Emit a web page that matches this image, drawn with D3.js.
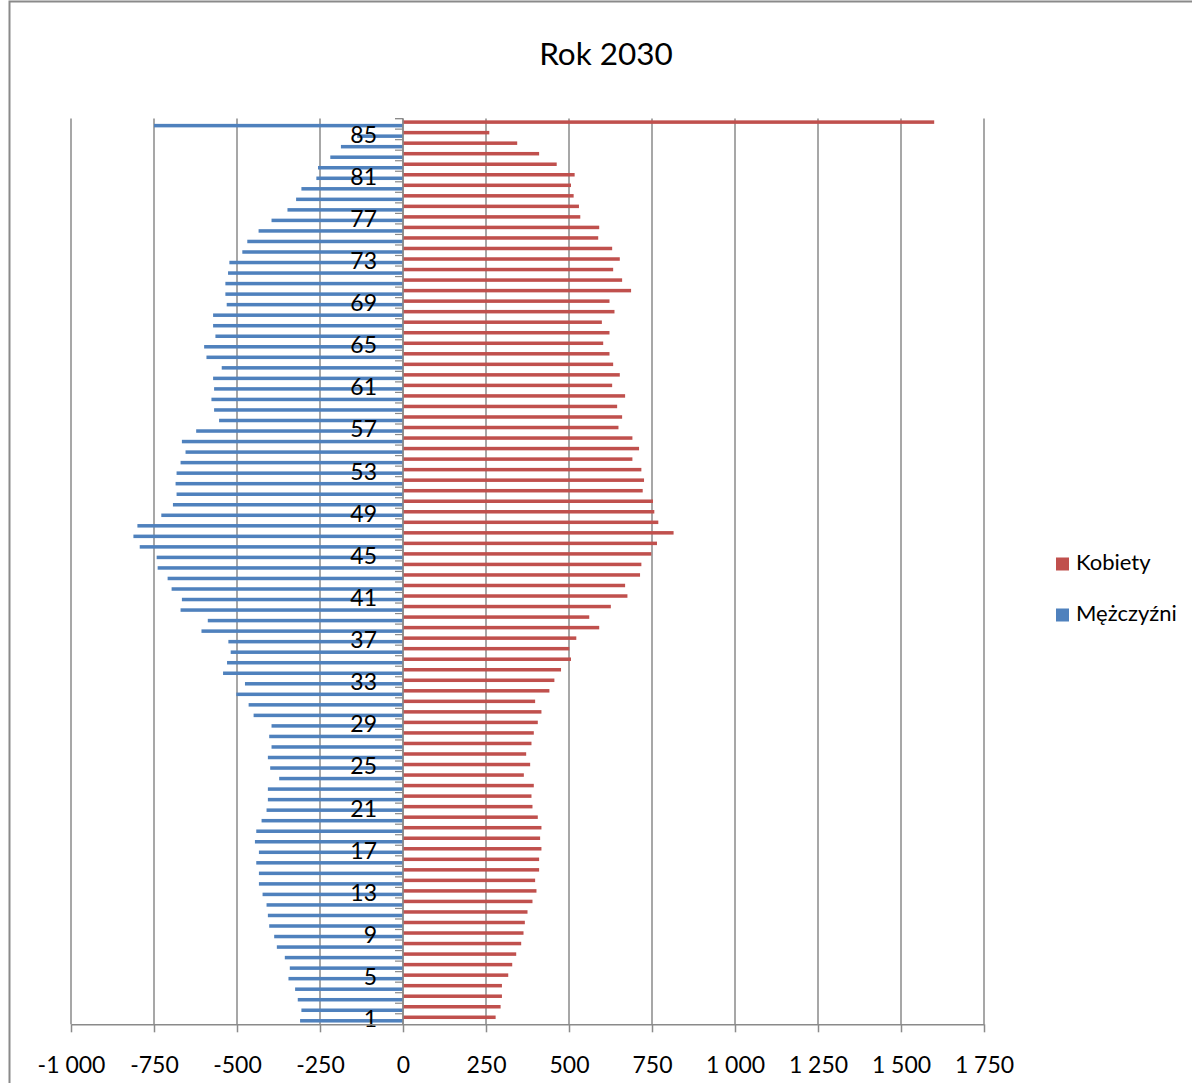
<!DOCTYPE html>
<html><head><meta charset="utf-8">
<script src="https://cdn.jsdelivr.net/npm/d3@7"></script>
<style>
body{margin:0;background:#fff}
svg{display:block}
text{font-family:Lato,"Open Sans",sans-serif;fill:#000}
</style>
</head><body>
<svg id="c" width="1192" height="1083"></svg>
<script>
const title = "Rok 2030";
const seriesNames = ["Kobiety", "Mężczyźni"];
const ages = ["1","2","3","4","5","6","7","8","9","10","11","12","13","14","15","16","17","18","19","20",
  "21","22","23","24","25","26","27","28","29","30","31","32","33","34","35","36","37","38","39","40",
  "41","42","43","44","45","46","47","48","49","50","51","52","53","54","55","56","57","58","59","60",
  "61","62","63","64","65","66","67","68","69","70","71","72","73","74","75","76","77","78","79","80",
  "81","82","83","84","85","86"];
// Mężczyźni (negative values, left side), age 1 .. 86
const men = [-310,-306,-317,-325,-345,-341,-356,-380,-388,-403,-407,-411,-423,-434,-434,-442,-434,-446,-442,-426,
  -411,-407,-407,-373,-400,-407,-396,-403,-396,-450,-465,-502,-476,-542,-530,-519,-526,-607,-588,-670,
  -666,-697,-709,-739,-742,-793,-812,-800,-728,-693,-682,-685,-682,-670,-655,-666,-623,-554,-569,-577,
  -569,-572,-546,-592,-599,-565,-572,-572,-531,-535,-535,-527,-523,-484,-469,-435,-396,-348,-322,-306,
  -261,-256,-219,-187,-138,-750];
// Kobiety, age 1 .. 86
const women = [279,294,298,298,317,329,341,356,363,367,375,390,402,398,410,410,417,413,417,406,
  390,387,394,364,383,371,387,394,406,417,398,441,456,476,506,501,522,591,561,626,
  676,669,714,718,748,765,815,769,757,753,722,726,718,691,711,691,649,660,645,669,
  630,653,633,622,603,622,599,637,622,687,660,633,653,630,588,591,534,530,514,506,
  517,463,410,344,260,1600];
const xTicks = [-1000,-750,-500,-250,0,250,500,750,1000,1250,1500,1750];
const colors = {"Kobiety":"#C0504D","Mężczyźni":"#4F81BD"};
const gridColor = "#8a8a8a";

const svg = d3.select("#c");
const locale = d3.formatLocale({decimal:",",thousands:"\u00a0",grouping:[3],currency:["","zł"],minus:"-"});
const fmt = locale.format(",d");

// chart area border
svg.append("rect").attr("x",9.5).attr("y",1.5).attr("width",1400).attr("height",1400)
  .attr("fill","#fff").attr("stroke","#8a8a8a").attr("stroke-width",2);

const x = d3.scaleLinear().domain([-1000,1750]).range([71,984]);
const y = d3.scaleBand().domain(ages.slice().reverse()).range([118.6,1024.3]).padding(0);
const ys = d3.scaleBand().domain(seriesNames).range([0,y.bandwidth()]).paddingInner(0).paddingOuter(0.5);
const yTop = y.range()[0], yBottom = y.range()[1];

// title
svg.append("text").attr("x",606).attr("y",64.5).attr("text-anchor","middle")
  .style("font-size","31.5px").text(title);

// vertical gridlines
svg.append("g").selectAll("line").data(xTicks).join("line")
  .attr("x1",d=>x(d)).attr("x2",d=>x(d)).attr("y1",yTop).attr("y2",yBottom)
  .attr("stroke",gridColor).attr("stroke-width",1.5);

// bars
const rows = ages.map((a,i)=>({age:a, m:men[i], k:women[i]}));
svg.append("g").selectAll("rect").data(rows).join("rect")
  .attr("x",x(0)).attr("width",d=>x(d.k)-x(0))
  .attr("y",d=>y(d.age)+ys("Kobiety")).attr("height",ys.bandwidth())
  .attr("fill",colors["Kobiety"]);
svg.append("g").selectAll("rect").data(rows).join("rect")
  .attr("x",d=>x(d.m)).attr("width",d=>x(0)-x(d.m))
  .attr("y",d=>y(d.age)+ys("Mężczyźni")).attr("height",ys.bandwidth())
  .attr("fill",colors["Mężczyźni"]);

// category axis at 0
const cat = svg.append("g");
cat.append("line").attr("x1",x(0)).attr("x2",x(0)).attr("y1",yTop).attr("y2",yBottom)
  .attr("stroke",gridColor).attr("stroke-width",1.5);
const bounds = ages.map(a=>y(a)).concat([yTop]);
cat.selectAll("line.t").data(bounds).join("line").attr("class","t")
  .attr("x1",x(0)-8).attr("x2",x(0)).attr("y1",d=>d).attr("y2",d=>d)
  .attr("stroke",gridColor).attr("stroke-width",1.2);
cat.selectAll("text").data(ages.filter((a,i)=>i%4===0)).join("text")
  .attr("x",377).attr("y",d=>y(d)+y.bandwidth()/2+8.2).attr("text-anchor","end")
  .style("font-size","23px").text(d=>d);

// x axis
const xa = svg.append("g").attr("transform",`translate(0,${yBottom})`)
  .call(d3.axisBottom(x).tickValues(xTicks).tickFormat(fmt).tickSize(8).tickSizeOuter(0));
xa.select(".domain").attr("stroke",gridColor).attr("stroke-width",1.5);
xa.selectAll(".tick line").attr("stroke",gridColor).attr("stroke-width",1.5);
xa.selectAll(".tick text").attr("y",49).attr("dy",0).style("font-size","23px").attr("fill","#000");

// legend
const lg = svg.append("g");
const legendY = {"Kobiety":557.5,"Mężczyźni":608.5};
seriesNames.forEach(s=>{
  lg.append("rect").attr("x",1056).attr("y",legendY[s]).attr("width",13).attr("height",13).attr("fill",colors[s]);
  lg.append("text").attr("x",1076).attr("y",legendY[s]+12).style("font-size","22px").text(s);
});
</script>
</body></html>
